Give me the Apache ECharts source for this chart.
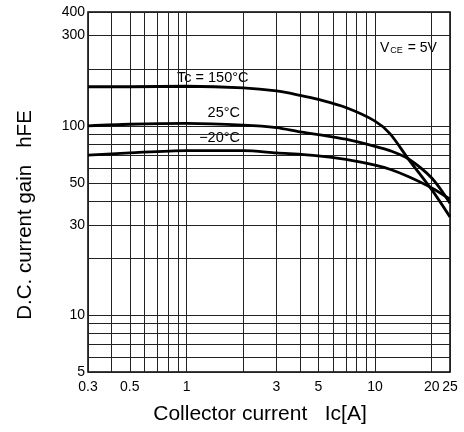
<!DOCTYPE html>
<html><head><meta charset="utf-8">
<script src="https://cdn.jsdelivr.net/npm/echarts@6/dist/echarts.min.js"></script>
<style>html,body{margin:0;padding:0;background:#fff}#c{width:464px;height:432px}</style>
</head><body><div id="c"></div>
<script>
// Collector current Ic [A] and DC current gain hFE
const icHot  = [0.3, 0.5, 1, 2, 3, 4, 5, 7, 10, 12, 15, 20, 25];
const hfeHot = [161, 161, 162, 159, 153, 145, 138, 125, 106, 91, 67, 46, 33];
const icRoom  = [0.3, 0.5, 1, 2, 3, 4, 5, 7, 10, 12, 15, 20, 25];
const hfeRoom = [100, 102, 103, 101, 98, 93, 90, 85, 78, 74, 67, 53, 39];
const icCold  = [0.3, 0.5, 1, 2, 3, 5, 7, 10, 12, 15, 20, 25];
const hfeCold = [70, 72, 74, 74, 72, 69.5, 66.5, 62, 59, 54, 47, 41];

const xGridValues = [0.3,0.4,0.5,0.6,0.7,0.8,0.9,1,2,3,4,5,6,7,8,9,10,20,25];
const yGridValues = [5,6,7,8,9,10,20,30,40,50,60,70,80,90,100,200,300,400];
const xTickLabels = [0.3,0.5,1,3,5,10,20,25];
const yTickLabels = [5,10,30,50,100,300,400];

const zip = (xs, ys) => xs.map((x, i) => [x, ys[i]]);
const nearest = (list, v) => list.reduce((a, b) => Math.abs(Math.log(b / v)) < Math.abs(Math.log(a / v)) ? b : a);

const FONT = 'Liberation Sans, Arial, sans-serif';
const chart = echarts.init(document.getElementById('c'));
const curve = (data) => ({
  type: 'line', data, smooth: 0.3, symbol: 'none', silent: true,
  lineStyle: { color: '#000', width: 2.8 }
});
chart.setOption({
  animation: false,
  backgroundColor: '#fff',
  grid: { left: 88, right: 14, top: 12, bottom: 60, show: true, borderColor: '#000', borderWidth: 1.5 },
  xAxis: {
    type: 'log', logBase: 10, min: 0.3, max: 25,
    axisLine: { show: false },
    axisTick: { show: false, customValues: xGridValues },
    splitLine: { show: true, lineStyle: { color: '#222', width: 1 } },
    minorSplitLine: { show: false },
    axisLabel: {
      customValues: xTickLabels, color: '#000', fontSize: 14, margin: 8, fontFamily: FONT,
      formatter: v => String(nearest(xTickLabels, v))
    },
    name: 'Collector current   Ic[A]', nameLocation: 'middle', nameGap: 32,
    nameTextStyle: { fontSize: 21, color: '#000', fontFamily: FONT, padding: [0, 18, 0, 0] }
  },
  yAxis: {
    type: 'log', logBase: 10, min: 5, max: 400,
    axisLine: { show: false },
    axisTick: { show: false, customValues: yGridValues },
    splitLine: { show: true, lineStyle: { color: '#222', width: 1 } },
    axisLabel: {
      customValues: yTickLabels, color: '#000', fontSize: 14, margin: 3, fontFamily: FONT,
      formatter: v => String(nearest(yTickLabels, v))
    },
    name: 'D.C. current gain   hFE', nameLocation: 'middle', nameGap: 52,
    nameTextStyle: { fontSize: 20.5, color: '#000', fontFamily: FONT, padding: [0, 46, 0, 0] }
  },
  series: [curve(zip(icHot, hfeHot)), curve(zip(icRoom, hfeRoom)), curve(zip(icCold, hfeCold))],
  graphic: [
    { type: 'text', x: 177, y: 78, style: { text: 'Tc = 150°C', font: '14.5px ' + FONT, fill: '#000', verticalAlign: 'middle' } },
    { type: 'text', x: 240, y: 113, style: { text: '25°C', font: '14.5px ' + FONT, fill: '#000', align: 'right', verticalAlign: 'middle' } },
    { type: 'text', x: 240, y: 138, style: { text: '−20°C', font: '14.5px ' + FONT, fill: '#000', align: 'right', verticalAlign: 'middle' } },
    { type: 'text', x: 380, y: 48, style: {
        text: '{v|V}{s|CE}{v| = 5V}', verticalAlign: 'middle', fill: '#000',
        rich: { v: { fontSize: 14, fontFamily: FONT, fill: '#000' }, s: { fontSize: 9, fontFamily: FONT, fill: '#000', padding: [5, 1, 0, 1] } }
    } }
  ]
});
</script></body></html>
